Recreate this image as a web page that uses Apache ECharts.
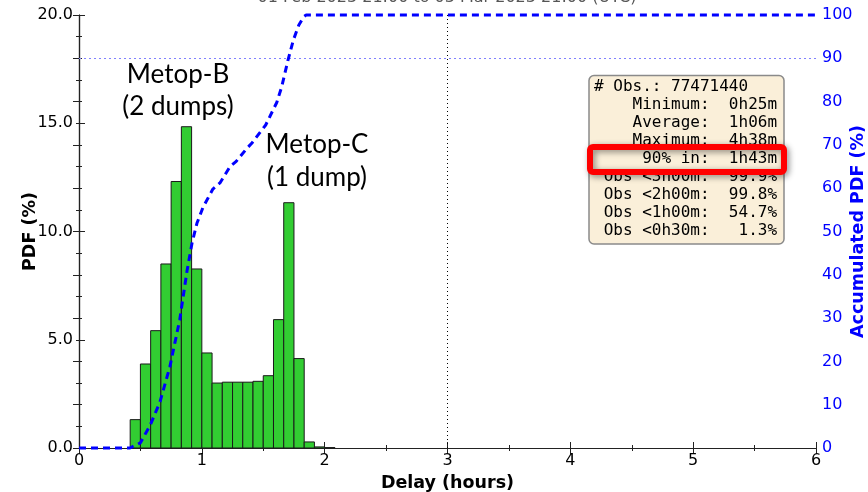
<!DOCTYPE html>
<html>
<head>
<meta charset="utf-8">
<script src="https://cdn.jsdelivr.net/npm/echarts@6/dist/echarts.min.js"></script>
<style>
html,body{margin:0;padding:0;background:#fff;}
#chart{width:868px;height:492px;}
</style>
</head>
<body>
<div id="chart"></div>
<script>
// Histogram bins: left edge in minutes, width 5 minutes
const binStartMin = [25, 30, 35, 40, 45, 50, 55, 60, 65, 70, 75, 80, 85, 90, 95, 100, 105, 110, 115, 120];
const binWidthMin = 5;
const pdfValues   = [1.31, 3.88, 5.42, 8.50, 12.31, 14.84, 8.27, 4.39, 3.00, 3.04, 3.04, 3.04, 3.08, 3.34, 5.93, 11.33, 4.13, 0.28, 0.05, 0.02];

// Accumulated PDF
const cumHours = [0, 0.415, 0.50, 0.58, 0.66, 0.74, 0.82, 0.88, 0.92, 0.96, 1.01, 1.09, 1.15, 1.23, 1.28, 1.37, 1.41, 1.52, 1.61, 1.65, 1.70, 1.745, 1.79, 1.83, 1.85, 6.0];
const cumPct   = [0, 0, 1.2, 5.3, 10.7, 18.8, 29.6, 41.0, 47.3, 51.9, 55.6, 59.8, 61.3, 65.0, 66.2, 69.3, 70.5, 74.6, 79.8, 83.4, 89.4, 94.2, 97.7, 99.6, 100, 100];

const xTicks = [0, 1, 2, 3, 4, 5, 6];
const leftTicks = [0, 5, 10, 15, 20];
const rightTicks = [0, 10, 20, 30, 40, 50, 60, 70, 80, 90, 100];

const statsLines = [
  "# Obs.: 77471440",
  "    Minimum:  0h25m",
  "    Average:  1h06m",
  "    Maximum:  4h38m",
  "     90% in:  1h43m",
  " Obs <3h00m:  99.9%",
  " Obs <2h00m:  99.8%",
  " Obs <1h00m:  54.7%",
  " Obs <0h30m:   1.3%"
];
const titleText = "01 Feb 2023 21:00 to 03 Mar 2023 21:00 (UTC)";

const barData = binStartMin.map((m, i) => [m / 60, (m + binWidthMin) / 60, pdfValues[i]]);
const cumData = cumHours.map((h, i) => [h, cumPct[i]]);

const FONT = 'DejaVu Sans';
const chart = echarts.init(document.getElementById('chart'), null, {renderer: 'canvas'});

const tickCommon = {
  axisLine: {show: true, lineStyle: {color: '#222', width: 1.2}},
  axisTick: {show: true, inside: true, length: 6, lineStyle: {color: '#222'}},
  splitLine: {show: false}
};

const option = {
  animation: false,
  backgroundColor: '#fff',
  grid: {left: 79, right: 52, top: 15, bottom: 44, containLabel: false, outerBoundsMode: 'none'},
  xAxis: [
    Object.assign({
      type: 'value', min: xTicks[0], max: xTicks[xTicks.length - 1], interval: 1,
      position: 'bottom',
      name: 'Delay (hours)', nameLocation: 'middle', nameGap: 26, nameMoveOverlap: false,
      nameTextStyle: {fontFamily: FONT, fontWeight: 'bold', fontSize: 17.5, color: '#000'},
      minorTick: {show: true, splitNumber: 2, length: 3, lineStyle: {color: '#222'}},
      axisLabel: {fontFamily: FONT, fontSize: 16, color: '#000', margin: 5}
    }, tickCommon),
    Object.assign({
      type: 'value', min: xTicks[0], max: xTicks[xTicks.length - 1], interval: 1,
      position: 'top',
      minorTick: {show: true, splitNumber: 2, length: 3, lineStyle: {color: '#222'}},
      axisLabel: {show: false}
    }, tickCommon)
  ],
  yAxis: [
    Object.assign({
      type: 'value', min: leftTicks[0], max: leftTicks[leftTicks.length - 1], interval: 5,
      position: 'left',
      name: 'PDF (%)', nameLocation: 'middle', nameGap: 40, nameRotate: 90, nameMoveOverlap: false,
      nameTextStyle: {fontFamily: FONT, fontWeight: 'bold', fontSize: 17.5, color: '#000'},
      minorTick: {show: true, splitNumber: 5, length: 3, lineStyle: {color: '#222'}},
      axisLabel: {fontFamily: FONT, fontSize: 16, color: '#000', margin: 6,
                  formatter: v => v.toFixed(1)}
    }, tickCommon),
    Object.assign({
      type: 'value', min: rightTicks[0], max: rightTicks[rightTicks.length - 1], interval: 10,
      position: 'right',
      name: 'Accumulated PDF (%)', nameLocation: 'middle', nameGap: 33, nameRotate: 90, nameMoveOverlap: false,
      nameTextStyle: {fontFamily: FONT, fontWeight: 'bold', fontSize: 17.5, color: '#0000ff'},
      minorTick: {show: true, splitNumber: 2, length: 3, lineStyle: {color: '#222'}},
      axisLabel: {fontFamily: FONT, fontSize: 16, color: '#0000ff', margin: 6}
    }, tickCommon)
  ],
  series: [
    {
      type: 'custom',
      xAxisIndex: 0, yAxisIndex: 0,
      z: 2,
      data: barData,
      encode: {x: [0, 1], y: 2},
      renderItem: function (params, api) {
        const p0 = api.coord([api.value(0), 0]);
        const p1 = api.coord([api.value(1), api.value(2)]);
        return {
          type: 'rect',
          shape: {x: p0[0], y: p1[1], width: p1[0] - p0[0], height: p0[1] - p1[1]},
          style: {fill: '#32cd32', stroke: '#1a1a1a', lineWidth: 1}
        };
      }
    },
    {
      type: 'line',
      xAxisIndex: 0, yAxisIndex: 1,
      z: 5,
      clip: false,
      data: cumData,
      showSymbol: false,
      symbol: 'none',
      lineStyle: {color: '#0000ff', width: 3, type: [7, 5]},
      markLine: {
        silent: true,
        symbol: 'none',
        label: {show: false},
        data: [
          {yAxis: 90, lineStyle: {color: '#8080ff', width: 1, type: [2, 3]}},
          {xAxis: 3, lineStyle: {color: '#000', width: 1, type: [1, 3]}}
        ]
      }
    }
  ],
  graphic: [
    {
      type: 'text', z: 10,
      style: {x: 447, y: 6, text: titleText, align: 'center', verticalAlign: 'bottom',
              fontFamily: FONT, fontSize: 16, fill: '#555'}
    },
    {
      type: 'text', z: 10,
      style: {x: 178, y: 91, text: 'Metop-B\n(2 dumps)', align: 'center', verticalAlign: 'middle',
              fontFamily: 'Lato', fontSize: 26, lineHeight: 32, fill: '#000'}
    },
    {
      type: 'text', z: 10,
      style: {x: 317, y: 161.5, text: 'Metop-C\n(1 dump)', align: 'center', verticalAlign: 'middle',
              fontFamily: 'Lato', fontSize: 26, lineHeight: 33, fill: '#000'}
    },
    {
      type: 'rect', z: 10,
      shape: {x: 589, y: 75.5, width: 195, height: 168.5, r: 5},
      style: {fill: '#faefd9', stroke: '#8a8a8a', lineWidth: 1.5}
    },
    {
      type: 'text', z: 11,
      style: {x: 594, y: 78, text: statsLines.join('\n'), align: 'left', verticalAlign: 'top',
              fontFamily: 'DejaVu Sans Mono', fontSize: 16, lineHeight: 18, fill: '#000'}
    },
    {
      type: 'rect', z: 12,
      shape: {x: 590, y: 147, width: 194, height: 25, r: 3},
      style: {fill: 'rgba(0,0,0,0)', stroke: '#ff0000', lineWidth: 6,
              shadowBlur: 6, shadowColor: 'rgba(0,0,0,0.45)', shadowOffsetX: 2, shadowOffsetY: 2}
    }
  ]
};
chart.setOption(option);
</script>
</body>
</html>
